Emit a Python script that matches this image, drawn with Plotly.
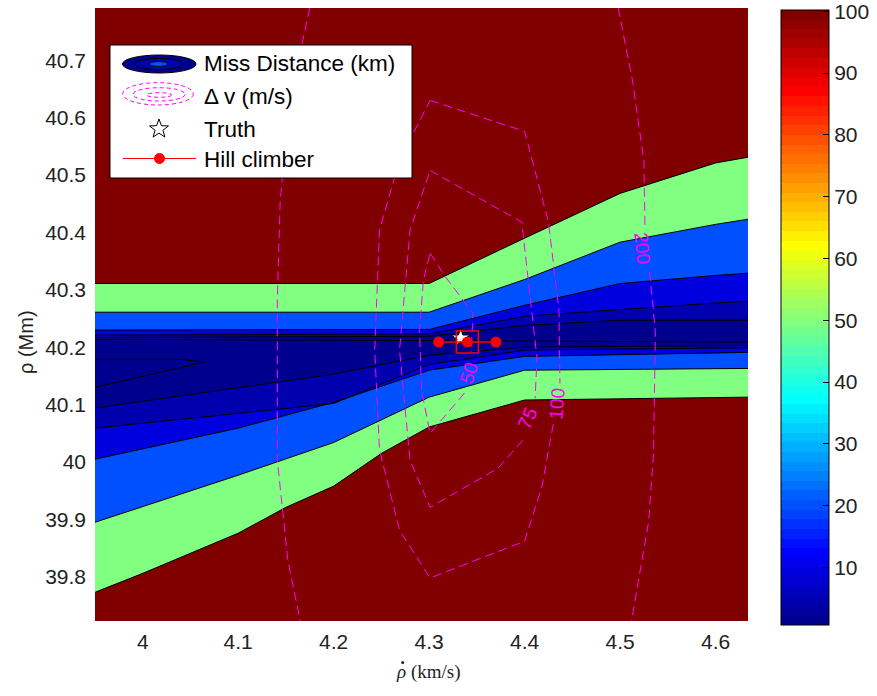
import math
import plotly.graph_objects as go

# ---------------- axes / ticks ----------------
x_range = [3.95, 4.634]
y_range = [39.723, 40.791]
x_ticks = [4.0, 4.1, 4.2, 4.3, 4.4, 4.5, 4.6]
x_tick_labels = ["4", "4.1", "4.2", "4.3", "4.4", "4.5", "4.6"]
y_ticks = [39.8, 39.9, 40.0, 40.1, 40.2, 40.3, 40.4, 40.5, 40.6, 40.7]
y_tick_labels = ["39.8", "39.9", "40", "40.1", "40.2", "40.3", "40.4", "40.5", "40.6", "40.7"]

# ---------------- miss distance contour levels (km) ----------------
levels = [2, 5, 10, 20, 50, 100]
clim = [0.7, 100.2]
cbar_ticks = [10, 20, 30, 40, 50, 60, 70, 80, 90, 100]

# contour boundaries (upper branch / lower branch)
c100_up_x = [3.95, 4.30, 4.40, 4.50, 4.60, 4.634]
c100_up_y = [40.311, 40.311, 40.390, 40.468, 40.521, 40.531]
c100_lo_x = [3.95, 4.00, 4.10, 4.15, 4.20, 4.25, 4.30, 4.40, 4.634]
c100_lo_y = [39.773, 39.806, 39.876, 39.921, 39.958, 40.015, 40.061, 40.108, 40.113]

c50_up_x = [3.95, 4.30, 4.40, 4.50, 4.60, 4.634]
c50_up_y = [40.261, 40.261, 40.318, 40.383, 40.414, 40.423]
c50_lo_x = [3.95, 4.10, 4.20, 4.25, 4.30, 4.40, 4.634]
c50_lo_y = [39.895, 39.977, 40.034, 40.073, 40.113, 40.160, 40.163]

c20_up_x = [3.95, 4.30, 4.40, 4.50, 4.60, 4.634]
c20_up_y = [40.230, 40.231, 40.273, 40.311, 40.325, 40.329]
c20_lo_x = [3.95, 4.10, 4.20, 4.30, 4.40, 4.634]
c20_lo_y = [40.005, 40.059, 40.104, 40.160, 40.184, 40.191]

c10_up_x = [3.95, 4.30, 4.40, 4.50, 4.60, 4.634]
c10_up_y = [40.221, 40.223, 40.254, 40.266, 40.277, 40.280]
c10_lo_x = [3.95, 4.20, 4.30, 4.40, 4.634]
c10_lo_y = [40.059, 40.102, 40.170, 40.195, 40.199]

c5_up_x = [3.95, 4.30, 4.40, 4.50, 4.634]
c5_up_y = [40.217, 40.219, 40.238, 40.247, 40.247]
c5_lo_x = [3.95, 4.20, 4.30, 4.40, 4.634]
c5_lo_y = [40.094, 40.153, 40.186, 40.200, 40.203]

c2_line_x = [3.95, 4.30, 4.634]
c2_line_y = [40.214, 40.212, 40.209]
c2_wedge_x = [3.95, 4.039, 4.064, 3.95]
c2_wedge_y = [40.179, 40.179, 40.174, 40.130]

# ---------------- delta-v contours (m/s) ----------------
dv50_x = [4.301, 4.316, 4.346, 4.344, None, 4.337, 4.301, 4.292, 4.290, 4.294, 4.301]
dv50_y = [40.364, 40.325, 40.259, 40.191, None, 40.120, 40.050, 40.125, 40.230, 40.317, 40.364]
dv75_x = [4.301, 4.397, 4.413, 4.411, None, 4.398, 4.372, 4.301, 4.280, 4.269, 4.280, 4.301]
dv75_y = [40.508, 40.418, 40.181, 40.111, None, 40.038, 39.989, 39.921, 40.003, 40.195, 40.404, 40.508]
dv100_x = [4.301, 4.400, 4.425, 4.436, 4.437, None, 4.430, 4.418, 4.400, 4.301, 4.269, 4.248, 4.243, 4.248, 4.269, 4.301]
dv100_y = [40.630, 40.576, 40.418, 40.264, 40.137, None, 40.066, 39.956, 39.862, 39.798, 39.881, 40.021, 40.195, 40.404, 40.526, 40.630]
dv150_x = [4.175, 4.154, 4.144, 4.141, 4.141, 4.152, 4.165]
dv150_y = [40.791, 40.630, 40.456, 40.282, 40.003, 39.829, 39.723]
dv200_x = [4.498, 4.513, 4.525, 4.526, None, 4.531, 4.537, 4.535, 4.530, 4.512]
dv200_y = [40.791, 40.665, 40.524, 40.413, None, 40.331, 40.226, 40.015, 39.897, 39.723]

dv_label_text = ["50", "75", "100", "200"]
dv_label_x = [4.341, 4.403, 4.434, 4.523]
dv_label_y = [40.155, 40.076, 40.102, 40.372]
dv_label_angle = [-72, -65, -85, 85]

# ---------------- markers ----------------
truth_x = [4.333]
truth_y = [40.216]
climber_x = [4.31, 4.34, 4.37]
climber_y = [40.209, 40.209, 40.209]
best_x = [4.34]
best_y = [40.209]

FONT = "Liberation Sans, Arial, sans-serif"
SERIF = "Liberation Serif, DejaVu Serif, serif"


# MATLAB-style jet(64) colormap
def jet64():
    def ch(v):
        return max(0.0, min(1.0, v))
    cols = []
    for k in range(1, 65):
        b = ch((k + 8) / 16) if k <= 8 else (1.0 if k <= 24 else ch((40 - k) / 16))
        g = 0.0 if k <= 8 else (ch((k - 8) / 16) if k <= 24 else (1.0 if k <= 40 else ch((56 - k) / 16)))
        r = 0.0 if k <= 24 else (ch((k - 24) / 16) if k <= 40 else (1.0 if k <= 56 else ch((72 - k) / 16)))
        cols.append((round(r * 255), round(g * 255), round(b * 255)))
    return cols


JET = jet64()


def level_color(v):
    k = int((v - clim[0]) / (clim[1] - clim[0]) * 64)
    k = max(0, min(63, k))
    r, g, b = JET[k]
    return f"rgb({r},{g},{b})"


jet_scale = []
for i, (r, g, b) in enumerate(JET):
    c = f"rgb({r},{g},{b})"
    jet_scale.append([i / 64, c])
    jet_scale.append([(i + 1) / 64, c])

fig = go.Figure()

bands = [
    (c100_up_x, c100_up_y, c100_lo_x, c100_lo_y, 50),
    (c50_up_x, c50_up_y, c50_lo_x, c50_lo_y, 20),
    (c20_up_x, c20_up_y, c20_lo_x, c20_lo_y, 10),
    (c10_up_x, c10_up_y, c10_lo_x, c10_lo_y, 5),
    (c5_up_x, c5_up_y, c5_lo_x, c5_lo_y, 2),
]
for ux, uy, lx, ly, lev in bands:
    fig.add_trace(go.Scatter(x=ux + lx[::-1], y=uy + ly[::-1], fill="toself",
                             fillcolor=level_color(lev), mode="none",
                             showlegend=False, hoverinfo="skip"))
for ux, uy, lx, ly, lev in bands:
    for xx, yy in ((ux, uy), (lx, ly)):
        fig.add_trace(go.Scatter(x=xx, y=yy, mode="lines", line=dict(color="black", width=1),
                                 showlegend=False, hoverinfo="skip"))
for xx, yy in ((c2_line_x, c2_line_y), (c2_wedge_x, c2_wedge_y)):
    fig.add_trace(go.Scatter(x=xx, y=yy, mode="lines", line=dict(color="black", width=1),
                             showlegend=False, hoverinfo="skip"))

for xx, yy in ((dv50_x, dv50_y), (dv75_x, dv75_y), (dv100_x, dv100_y),
               (dv150_x, dv150_y), (dv200_x, dv200_y)):
    fig.add_trace(go.Scatter(x=xx, y=yy, mode="lines", connectgaps=False,
                             line=dict(color="#FF00FF", width=1, dash="9px,5px"),
                             showlegend=False, hoverinfo="skip"))

for t, x, y, a in zip(dv_label_text, dv_label_x, dv_label_y, dv_label_angle):
    fig.add_annotation(x=x, y=y, text=t, textangle=a, showarrow=False,
                       xanchor="center", yanchor="middle",
                       font=dict(family=FONT, size=19, color="#FF00FF"))

# truth star and hill climber
fig.add_trace(go.Scatter(x=truth_x, y=truth_y, mode="markers",
                         marker=dict(symbol="star", size=14, color="white",
                                     line=dict(color="black", width=1)),
                         showlegend=False, hoverinfo="skip"))
fig.add_trace(go.Scatter(x=climber_x, y=climber_y, mode="lines+markers",
                         line=dict(color="red", width=1.5),
                         marker=dict(symbol="circle", size=11, color="red"),
                         showlegend=False, hoverinfo="skip"))
fig.add_trace(go.Scatter(x=best_x, y=best_y, mode="markers",
                         marker=dict(symbol="square-open", size=22, color="red",
                                     line=dict(color="red", width=1.5)),
                         showlegend=False, hoverinfo="skip"))

# page geometry (body margin removed by post_script)
W, H = 877, 696
L, R, T, B = 95, 748, 8, 621          # plot area in page pixels
CB_L, CB_R, CB_T, CB_B = 781, 829, 10, 625


def PX(px):
    return (px - L) / (R - L)


def PY(py):
    return (B - py) / (B - T)


# colorbar carrier
fig.add_trace(go.Scatter(x=[x_range[0], x_range[0]], y=[y_range[0], y_range[0]], mode="markers",
                         marker=dict(size=0.1, opacity=0, color=[clim[0], clim[1]],
                                     colorscale=jet_scale, cmin=clim[0], cmax=clim[1],
                                     showscale=True,
                                     colorbar=dict(x=PX(CB_L), xanchor="left", xpad=0,
                                                   y=PY((CB_T + CB_B) / 2), yanchor="middle", ypad=0,
                                                   len=CB_B - CB_T, lenmode="pixels",
                                                   thickness=CB_R - CB_L,
                                                   outlinecolor="black", outlinewidth=1,
                                                   tickvals=cbar_ticks, ticks="inside",
                                                   ticklen=6, tickcolor="black",
                                                   ticklabeloverflow="allow",
                                                   tickfont=dict(family=FONT, size=21, color="#222"))),
                         showlegend=False, hoverinfo="skip"))

shapes = []
# left-side colorbar ticks (MATLAB draws both sides)
for v in cbar_ticks:
    yy = CB_B - (v - clim[0]) / (clim[1] - clim[0]) * (CB_B - CB_T)
    shapes.append(dict(type="line", xref="paper", yref="paper", x0=PX(CB_L), x1=PX(CB_L + 6),
                       y0=PY(yy), y1=PY(yy), line=dict(color="black", width=1), layer="above"))

# ---------------- custom legend (MATLAB style) ----------------
shapes.append(dict(type="rect", xref="paper", yref="paper", x0=PX(110), x1=PX(412),
                   y0=PY(178), y1=PY(45), fillcolor="white", line=dict(color="black", width=1),
                   layer="above"))
for (x0, x1, y0, y1, fc) in [(122.5, 196, 55, 73, "#00008F"), (135, 183, 58.5, 69.5, "#0000AF"),
                             (149, 168, 61.5, 66.5, "#0050FF")]:
    shapes.append(dict(type="circle", xref="paper", yref="paper", x0=PX(x0), x1=PX(x1),
                       y0=PY(y1), y1=PY(y0), fillcolor=fc, line=dict(color="black", width=1),
                       layer="above"))
for (x0, x1, y0, y1) in [(122.7, 193.3, 82.7, 105), (133, 185, 87.7, 101), (146.7, 171.7, 92.7, 97.3)]:
    shapes.append(dict(type="circle", xref="paper", yref="paper", x0=PX(x0), x1=PX(x1),
                       y0=PY(y1), y1=PY(y0), line=dict(color="#FF00FF", width=1, dash="4px,3px"),
                       layer="above"))
cx, cy, ro, ri = 159, 129, 10, 4.1
pts = []
for i in range(10):
    ang = -math.pi / 2 + i * math.pi / 5
    rr = ro if i % 2 == 0 else ri
    pts.append((PX(cx + rr * math.cos(ang)), PY(cy + rr * math.sin(ang))))
path = "M " + " L ".join(f"{a:.5f},{b:.5f}" for a, b in pts) + " Z"
shapes.append(dict(type="path", xref="paper", yref="paper", path=path, fillcolor="white",
                   line=dict(color="black", width=1), layer="above"))
shapes.append(dict(type="line", xref="paper", yref="paper", x0=PX(123), x1=PX(196),
                   y0=PY(158.5), y1=PY(158.5), line=dict(color="red", width=1), layer="above"))
shapes.append(dict(type="circle", xref="paper", yref="paper", x0=PX(154.5), x1=PX(164.5),
                   y0=PY(163.5), y1=PY(153.5), fillcolor="red", line=dict(color="red", width=1),
                   layer="above"))

legend_text = ["Miss Distance (km)", "\u0394 v (m/s)", "Truth", "Hill climber"]
legend_rows = [64, 97, 129, 159]
for txt, row in zip(legend_text, legend_rows):
    fig.add_annotation(xref="paper", yref="paper", x=PX(202), y=PY(row), text=txt,
                       xanchor="left", yanchor="middle", showarrow=False,
                       font=dict(family=FONT, size=22.5, color="black"))

# axis titles (dot of rho-dot drawn as a tiny filled circle above the rho)
fig.add_annotation(xref="paper", yref="paper", x=PX(428), y=PY(672),
                   xanchor="center", yanchor="middle",
                   text="<i>\u03c1</i> (km/s)", showarrow=False,
                   font=dict(family=SERIF, size=19, color="#222"))
shapes.append(dict(type="circle", xref="paper", yref="paper", x0=PX(401.2), x1=PX(404.2),
                   y0=PY(664), y1=PY(661), fillcolor="#222", line=dict(color="#222", width=0),
                   layer="above"))
fig.add_annotation(xref="paper", yref="paper", x=PX(26), y=PY(342), text="\u03c1 (Mm)",
                   xanchor="center", yanchor="middle",
                   textangle=-90, showarrow=False,
                   font=dict(family=FONT, size=20, color="#222"))

fig.update_layout(
    width=W, height=H,
    margin=dict(l=L, r=W - R, t=T, b=H - B, autoexpand=False),
    paper_bgcolor="white",
    plot_bgcolor=level_color(100),
    shapes=shapes,
    showlegend=False,
    xaxis=dict(range=x_range, tickvals=x_ticks, ticktext=x_tick_labels, showgrid=False,
               zeroline=False, showline=False, ticks="", ticklabelstandoff=6,
               tickfont=dict(family=FONT, size=21, color="#222")),
    yaxis=dict(range=y_range, tickvals=y_ticks, ticktext=y_tick_labels, showgrid=False,
               zeroline=False, showline=False, ticks="", ticklabelstandoff=8,
               tickfont=dict(family=FONT, size=21, color="#222")),
)

fig.write_html("out.html", config={"displayModeBar": False},
               post_script="document.body.style.margin='0';document.body.style.overflow='hidden';")
